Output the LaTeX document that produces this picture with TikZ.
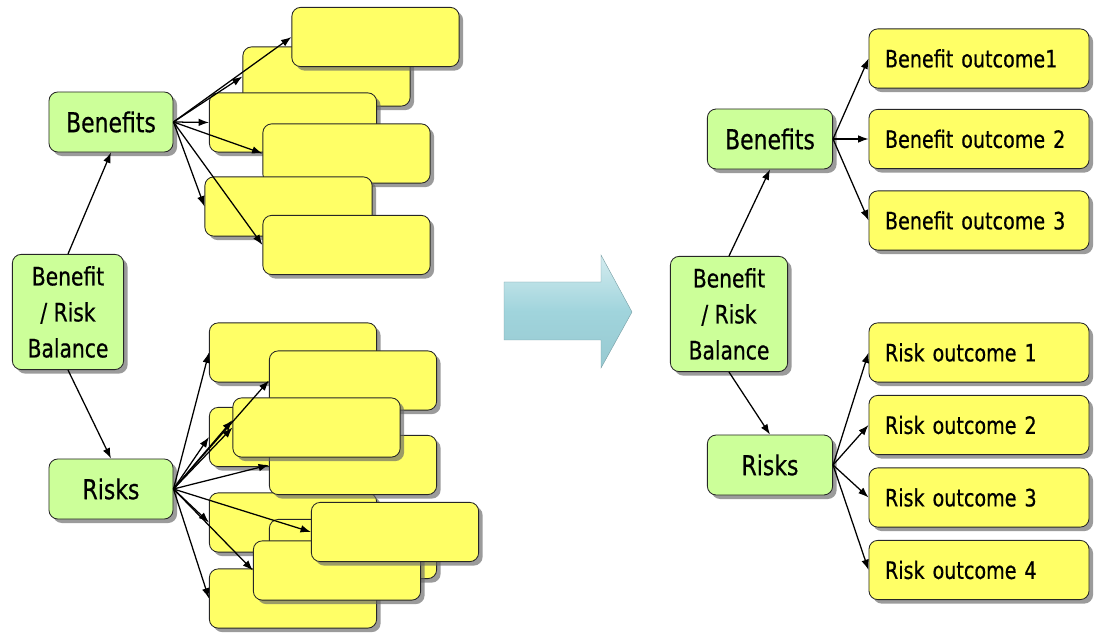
\documentclass[tikz,border=0pt]{standalone}
\usepackage{fontspec}
\setmainfont{DejaVu Sans}[FakeStretch=0.8, FakeBold=0.6]
\usetikzlibrary{shadows,arrows.meta}

\definecolor{leaf}{HTML}{CCFF99}
\definecolor{note}{HTML}{FFFF66}
\definecolor{sky}{RGB}{160,212,220}

\tikzset{
  box/.style={draw=black!85, line width=0.6pt, rounded corners=0.22cm,
    drop shadow={shadow xshift=0.1cm, shadow yshift=-0.1cm, fill=black!60, opacity=0.65}},
  factor/.style={box, fill=leaf, minimum width=3.1cm, minimum height=1.5cm, inner sep=0pt,
    font=\fontsize{19.5}{24}\selectfont},
  balance/.style={box, fill=leaf, minimum height=2.88cm, inner sep=0pt, align=center,
    font=\fontsize{18}{25.6}\selectfont},
  blank/.style={box, fill=note, minimum width=4.18cm, minimum height=1.48cm},
  outcome/.style={box, fill=note, minimum width=5.5cm, minimum height=1.48cm,
    inner xsep=0.4cm, text width=4.7cm, align=left, font=\fontsize{17}{21}\selectfont},
  arrow/.style={line width=0.9pt, -{Latex[length=2.6mm, width=1.9mm]}}
}

\begin{document}
\begin{tikzpicture}[x=0.025cm, y=-0.025cm]
  \useasboundingbox (0,0) rectangle (1098,635);

  % before: unsorted outcomes
  \node[balance, minimum width=2.78cm] (lbal) at (68,312) {Benefit\\/ Risk\\Balance};
  \node[factor] (lben) at (111,122) {Benefits};
  \node[factor] (lrisk) at (111,489) {Risks};
  \foreach \n/\x/\y in {b2/326.5/76.5, b1/375.5/37, b3/293/122.5, b4/346.5/153.5,
      b5/288.5/206.5, b6/346.5/245}
    \node[blank] (\n) at (\x,\y) {};
  \foreach \n/\x/\y in {r1/293/352.5, r2/353/380.5, r3/293/437, r6/293/522.5, r5/353/465,
      r4/316.5/427.5, r7/353/549, r10/293/598.5, r9/337/570.5, r8/395/532}
    \node[blank] (\n) at (\x,\y) {};
  \draw[arrow] (lbal.north) -- (lben.south);
  \draw[arrow] (lbal.south) -- (lrisk.north);
  \foreach \n in {b1,b2,b3,b4,b5,b6}
    \draw[arrow] (lben.east) -- (\n.west);
  \foreach \n in {r1,r2,r3,r4,r5,r6,r8,r9,r10}
    \draw[arrow] (lrisk.east) -- (\n.west);
  \draw[arrow] (lrisk.east) -- (r4.175); % second arrow into the same box

  % big arrow in the middle
  \shade[top color=sky!45, bottom color=sky!95!black, middle color=sky, draw=sky!75!black, line width=0.3pt]
    (504,282) -- (601,282) -- (601,255) -- (632,312) -- (601,368) -- (601,340) -- (504,340) -- cycle;

  % after: sorted outcomes
  \node[balance, minimum width=2.93cm] (rbal) at (729,314) {Benefit\\/ Risk\\Balance};
  \node[factor, minimum width=3.13cm] (rben) at (770,139) {Benefits};
  \node[factor, minimum width=3.13cm] (rrisk) at (770,465) {Risks};
  \node[outcome] (bo1) at (979,58.5) {Benefit outcome1};
  \node[outcome] (bo2) at (979,139) {Benefit outcome 2};
  \node[outcome] (bo3) at (979,220.5) {Benefit outcome 3};
  \node[outcome] (ro1) at (979,352.5) {Risk outcome 1};
  \node[outcome] (ro2) at (979,425) {Risk outcome 2};
  \node[outcome] (ro3) at (979,497.5) {Risk outcome 3};
  \node[outcome] (ro4) at (979,570) {Risk outcome 4};
  \draw[arrow] (rbal.north) -- (rben.south);
  \draw[arrow] (rbal.south) -- (rrisk.north);
  \foreach \n in {bo1,bo2,bo3}
    \draw[arrow] (rben.east) -- (\n.west);
  \foreach \n in {ro1,ro2,ro3,ro4}
    \draw[arrow] (rrisk.east) -- (\n.west);
\end{tikzpicture}
\end{document}
